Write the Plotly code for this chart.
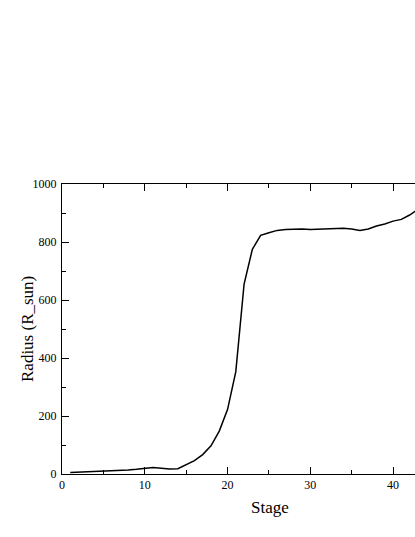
import plotly.graph_objects as go

# stellar radius vs evolutionary stage
stages = list(range(1, 44))
radius = [5, 6, 7, 8, 9, 10, 12, 14, 16, 19,
          22, 20, 17, 18, 32, 46, 67, 97, 148, 222,
          353, 655, 775, 823, 832, 840, 843, 844, 845, 843,
          844, 846, 846, 847, 845, 840, 845, 855, 862, 872,
          878, 893, 912]

x_ticks = [0, 10, 20, 30, 40]
y_ticks = [0, 200, 400, 600, 800, 1000]

FONT = "Liberation Serif"

fig = go.Figure(go.Scatter(
    x=stages,
    y=radius,
    mode="lines",
    line=dict(color="black", width=1.5),
    showlegend=False,
))

axis_common = dict(
    showgrid=False,
    zeroline=False,
    showline=True,
    linecolor="black",
    linewidth=1,
    ticks="inside",
    ticklen=7,
    tickwidth=1,
    tickcolor="black",
    tickfont=dict(family=FONT, size=12, color="black"),
    minor=dict(ticks="inside", ticklen=4, tickwidth=1, tickcolor="black"),
)

fig.update_xaxes(
    range=[0, 42.65],
    tickvals=x_ticks,
    minor_dtick=5,
    mirror="ticks",
    ticklabelstandoff=0,
    **axis_common,
)
fig.update_yaxes(
    range=[0, 1000],
    tickvals=y_ticks,
    minor_dtick=100,
    mirror=False,
    ticklabelstandoff=2,
    **axis_common,
)

fig.add_annotation(
    text="Stage", xref="paper", yref="paper", x=0.589, y=0,
    yshift=-22, xanchor="center", yanchor="top", showarrow=False,
    font=dict(family=FONT, size=17, color="black"),
)
fig.add_annotation(
    text="Radius (R_sun)", xref="paper", yref="paper", x=0, y=0.5,
    xshift=-35, xanchor="center", yanchor="middle", textangle=-90,
    showarrow=False, font=dict(family=FONT, size=17, color="black"),
)

fig.update_layout(
    width=415,
    height=537,
    margin=dict(l=62, r=0, t=184, b=63),
    paper_bgcolor="white",
    plot_bgcolor="white",
    font=dict(family=FONT, color="black"),
)

# the page body has an 8px default margin; drop it so the figure fills the window
fig.write_html(
    "out.html",
    config={"displayModeBar": False},
    post_script="document.body.style.margin = '0';",
)
